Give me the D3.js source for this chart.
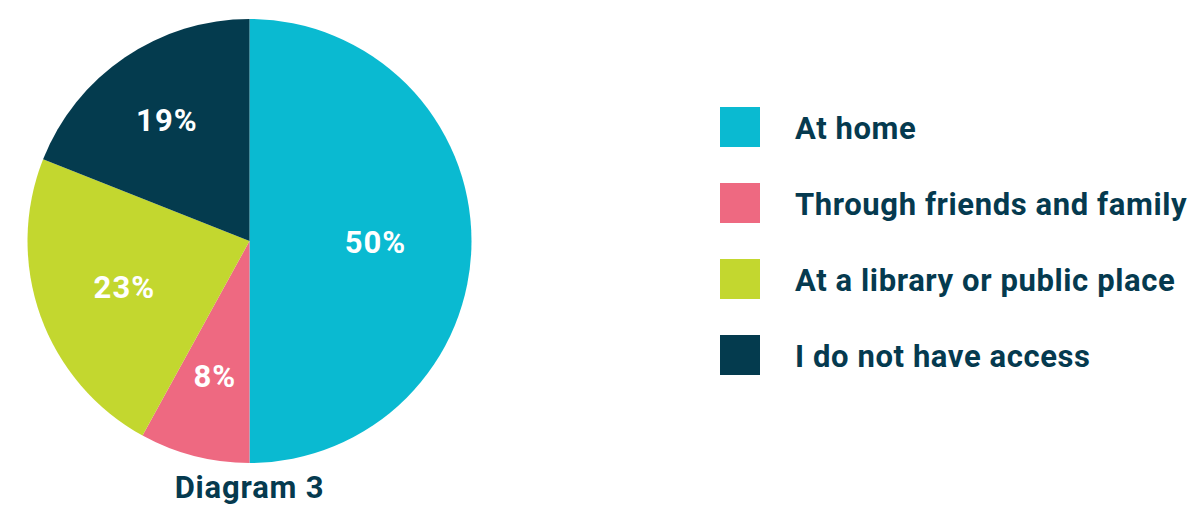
<!DOCTYPE html>
<html>
<head>
<meta charset="utf-8">
<script src="https://cdn.jsdelivr.net/npm/d3@7"></script>
<style>
  html, body { margin: 0; padding: 0; background: #ffffff; }
  svg { display: block; }
  text { font-family: Roboto, "DejaVu Sans", sans-serif; font-weight: 700; }
</style>
</head>
<body>
<svg id="chart" width="1192" height="506"></svg>
<script>
const categories = ["At home", "Through friends and family", "At a library or public place", "I do not have access"];
const values = [50, 8, 23, 19];
const labels = ["50%", "8%", "23%", "19%"];
const colors = ["#0abad1", "#ee6981", "#c3d72f", "#043b4e"];
const title = "Diagram 3";

// layout
const cx = 249.5, cy = 241, R = 222;
const labelRadius = [126, 139, 133, 147];
const textColor = "#053a4f";

const svg = d3.select("#chart");

const pie = d3.pie().sort(null).value(d => d)(values);
const arc = d3.arc().innerRadius(0).outerRadius(R);

const g = svg.append("g").attr("transform", `translate(${cx},${cy})`);
g.selectAll("path").data(pie).join("path")
  .attr("d", arc)
  .attr("fill", (d, i) => colors[i]);

g.selectAll("text.lbl").data(pie).join("text")
  .attr("class", "lbl")
  .attr("transform", (d, i) => {
    const a = d3.arc().innerRadius(labelRadius[i]).outerRadius(labelRadius[i]);
    const [x, y] = a.centroid(d);
    return `translate(${x},${y})`;
  })
  .attr("text-anchor", "middle")
  .attr("dy", "0.38em")
  .attr("fill", "#ffffff")
  .style("font-size", "31px")
  .style("letter-spacing", "1px")
  .text((d, i) => labels[i]);

svg.append("text")
  .attr("x", cx)
  .attr("y", 498)
  .attr("text-anchor", "middle")
  .attr("fill", textColor)
  .style("font-size", "31px")
  .style("letter-spacing", "0.8px")
  .text(title);

const leg = svg.append("g");
const items = leg.selectAll("g").data(categories).join("g")
  .attr("transform", (d, i) => `translate(720, ${107 + i * 76})`);
items.append("rect").attr("width", 40).attr("height", 40).attr("fill", (d, i) => colors[i]);
items.append("text")
  .attr("x", 75)
  .attr("y", 20)
  .attr("dy", "0.38em")
  .attr("fill", textColor)
  .style("font-size", "31px")
  .style("letter-spacing", "0.6px")
  .text(d => d);
</script>
</body>
</html>
